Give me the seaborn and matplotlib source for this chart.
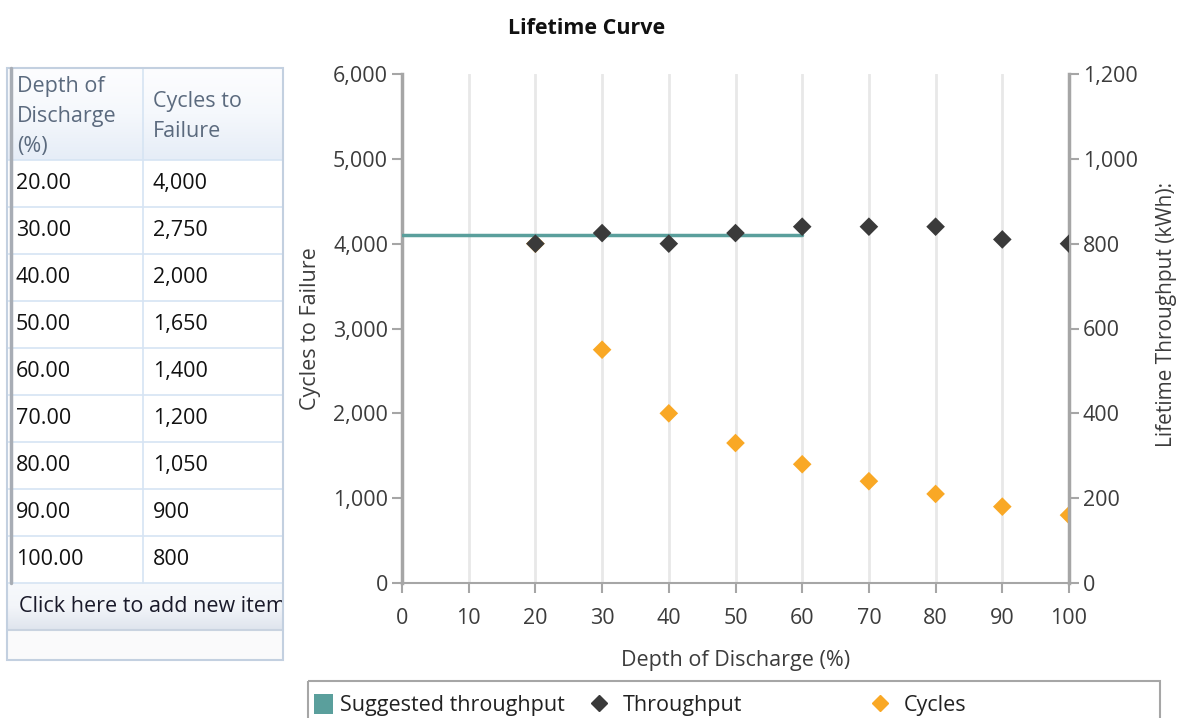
import numpy as np
import pandas as pd
import seaborn as sns
import matplotlib.pyplot as plt
from matplotlib.patches import Rectangle, Patch
from matplotlib.lines import Line2D
from matplotlib.ticker import FuncFormatter
plt.switch_backend('agg')

# data
dod = [20, 30, 40, 50, 60, 70, 80, 90, 100]
cycles = [4000, 2750, 2000, 1650, 1400, 1200, 1050, 900, 800]
throughput = [800, 825, 800, 825, 840, 840, 840, 810, 800]
suggested_x = [0, 60]
suggested_y = [820, 820]
x_ticks = [0, 10, 20, 30, 40, 50, 60, 70, 80, 90, 100]
left_ticks = [0, 1000, 2000, 3000, 4000, 5000, 6000]
right_ticks = [0, 200, 400, 600, 800, 1000, 1200]
legend_labels = ['Suggested throughput', 'Throughput', 'Cycles']

TEAL = '#5a9f9c'
DARK = '#3a3a3a'
ORANGE = '#f9a825'
GREY = '#a6a6a6'
TXT = '#3c3c3c'
FS = 15.5

sns.set_style('white')
plt.rcParams['font.family'] = ['Open Sans', 'DejaVu Sans']
plt.rcParams['font.size'] = FS

W, H = 1183, 718
fig = plt.figure(figsize=(W / 100, H / 100), dpi=100)

df = pd.DataFrame({'dod': dod, 'cycles': cycles, 'throughput': throughput})
df_s = pd.DataFrame({'x': suggested_x, 'y': suggested_y})

# chart axes, placed in pixels
x0, x1, y0, y1 = 402, 1069, 74, 583
ax = fig.add_axes([x0 / W, 1 - y1 / H, (x1 - x0) / W, (y1 - y0) / H])
ax2 = ax.twinx()

sns.scatterplot(data=df, x='dod', y='cycles', ax=ax, marker='D', s=90,
                color=ORANGE, edgecolor='none', zorder=3)
sns.lineplot(data=df_s, x='x', y='y', ax=ax2, color=TEAL, lw=2.5, zorder=2)
sns.scatterplot(data=df, x='dod', y='throughput', ax=ax2, marker='D', s=90,
                color=DARK, edgecolor='none', zorder=4)

ax.set_xlim(0, 100)
ax.set_ylim(0, 6000)
ax2.set_ylim(0, 1200)
ax.set_xticks(x_ticks)
ax.set_yticks(left_ticks)
ax2.set_yticks(right_ticks)
ax.yaxis.set_major_formatter(FuncFormatter(lambda v, p: f'{v:,.0f}'))
ax2.yaxis.set_major_formatter(FuncFormatter(lambda v, p: f'{v:,.0f}'))

ax.grid(axis='x', color='#e8e8e8', lw=2)
ax.grid(axis='y', visible=False)
ax2.grid(False)
ax.set_axisbelow(True)

for a in (ax, ax2):
    for s in a.spines.values():
        s.set_visible(False)
ax.spines['left'].set_visible(True)
ax.spines['left'].set_color(GREY)
ax.spines['left'].set_linewidth(2.5)
ax.spines['bottom'].set_visible(True)
ax.spines['bottom'].set_color(GREY)
ax.spines['bottom'].set_linewidth(1.5)
ax2.spines['right'].set_visible(True)
ax2.spines['right'].set_color(GREY)
ax2.spines['right'].set_linewidth(2.5)

ax.tick_params(axis='y', left=True, length=7, width=1.5, color=GREY,
               labelsize=FS, labelcolor=TXT, pad=3)
ax.tick_params(axis='x', bottom=True, length=7, width=1.5, color=GREY,
               labelsize=FS, labelcolor=TXT, pad=11)
ax2.tick_params(axis='y', right=True, length=7, width=1.5, color=GREY,
                labelsize=FS, labelcolor=TXT, pad=3)

ax.set_xlabel('Depth of Discharge (%)', fontsize=FS, color=TXT)
ax.xaxis.set_label_coords(0.5, -0.132)
ax.set_ylabel('Cycles to Failure', fontsize=FS, color=TXT)
ax.yaxis.set_label_coords(-0.121, 0.5)
ax2.set_ylabel('Lifetime Throughput (kWh):', fontsize=15, color=TXT)
ax2.yaxis.set_label_coords(1.131, 0.528)

fig.text(587 / W, 1 - 29 / H, 'Lifetime Curve', ha='center', va='center',
         fontsize=FS, fontweight='bold', color='#111111')

# overlay in pixel space for the table and legend frame
tab = fig.add_axes([0, 0, 1, 1], zorder=-1)
tab.set_xlim(0, W)
tab.set_ylim(H, 0)
tab.axis('off')

# legend: three fixed-width columns inside one frame
handles = [Patch(facecolor=TEAL, edgecolor='none'),
           Line2D([], [], marker='D', ls='none', color=DARK, markersize=8),
           Line2D([], [], marker='D', ls='none', color=ORANGE, markersize=8)]
leg_x = [314, 589, 870]
leg_pad = [0.3, 0.65, 0.65]
for h, lab, lx, tp in zip(handles, legend_labels, leg_x, leg_pad):
    lg = fig.legend([h], [lab], loc='center left',
                    bbox_to_anchor=(lx / W, 1 - 705 / H), frameon=False,
                    fontsize=FS, handlelength=0.9, handleheight=1.1,
                    handletextpad=tp, borderpad=0, borderaxespad=0)
    lg.get_texts()[0].set_color('#222222')
tab.add_patch(Rectangle((308, 681), 852, 60, facecolor='none',
                        edgecolor=GREY, lw=1.5, clip_on=False))

# grid table on the left
tl, tc, tr = 8, 143, 283
top, head_b, row_h = 68, 160, 47
grad = np.linspace(0, 1, 50).reshape(-1, 1)
tab.imshow(grad, extent=(tl, tr, head_b, top), aspect='auto',
           cmap=sns.blend_palette(['#fdfdff', '#f5f8fc', '#e6edf7'], as_cmap=True), zorder=1)
tab.text(tl + 9, 76, 'Depth of\nDischarge\n(%)', va='top', ha='left',
         fontsize=FS, color='#5b6a7e', linespacing=1.55, zorder=3)
tab.text(tc + 10, 91, 'Cycles to\nFailure', va='top', ha='left',
         fontsize=FS, color='#5b6a7e', linespacing=1.55, zorder=3)

n = len(dod)
for i in range(n):
    yc = head_b + row_h * (i + 0.5)
    tab.text(tl + 8, yc, f'{dod[i]:.2f}', va='center', ha='left',
             fontsize=FS, color='#111111', zorder=3)
    tab.text(tc + 10, yc, f'{cycles[i]:,}', va='center', ha='left',
             fontsize=FS, color='#111111', zorder=3)

rows_b = head_b + row_h * n
click_b = rows_b + 47
bottom = 660
tab.imshow(grad, extent=(tl, tr, click_b, rows_b), aspect='auto',
           cmap=sns.blend_palette(['#f7f9fc', '#f3f5f9', '#dfe5ee'], as_cmap=True), zorder=1)
tab.add_patch(Rectangle((tl, click_b), tr - tl, bottom - click_b,
                        facecolor='#fafafb', edgecolor='none', zorder=1))
t = tab.text(tl + 11, (rows_b + click_b) / 2, 'Click here to add new item',
             va='center', ha='left', fontsize=FS, color='#1a1a2a', zorder=3)
clip = Rectangle((tl, rows_b), tr - tl - 2, click_b - rows_b, transform=tab.transData)
t.set_clip_path(clip)

line_c = '#d6e4f3'
for i in range(n + 1):
    yy = head_b + row_h * i
    tab.plot([tl, tr], [yy, yy], color=line_c, lw=1.2, zorder=2)
tab.plot([tc, tc], [top, rows_b], color=line_c, lw=1.2, zorder=2)
tab.plot([tl, tr], [click_b, click_b], color='#c9d3e0', lw=1.5, zorder=2)
tab.add_patch(Rectangle((tl - 1, top), tr - tl + 1, bottom - top, facecolor='none',
                        edgecolor='#c3d0e0', lw=1.5, zorder=4))
tab.plot([tl + 3, tl + 3], [top, rows_b], color='#a8adb5', lw=2.5, zorder=4)

fig.savefig('out.png', dpi=100)
